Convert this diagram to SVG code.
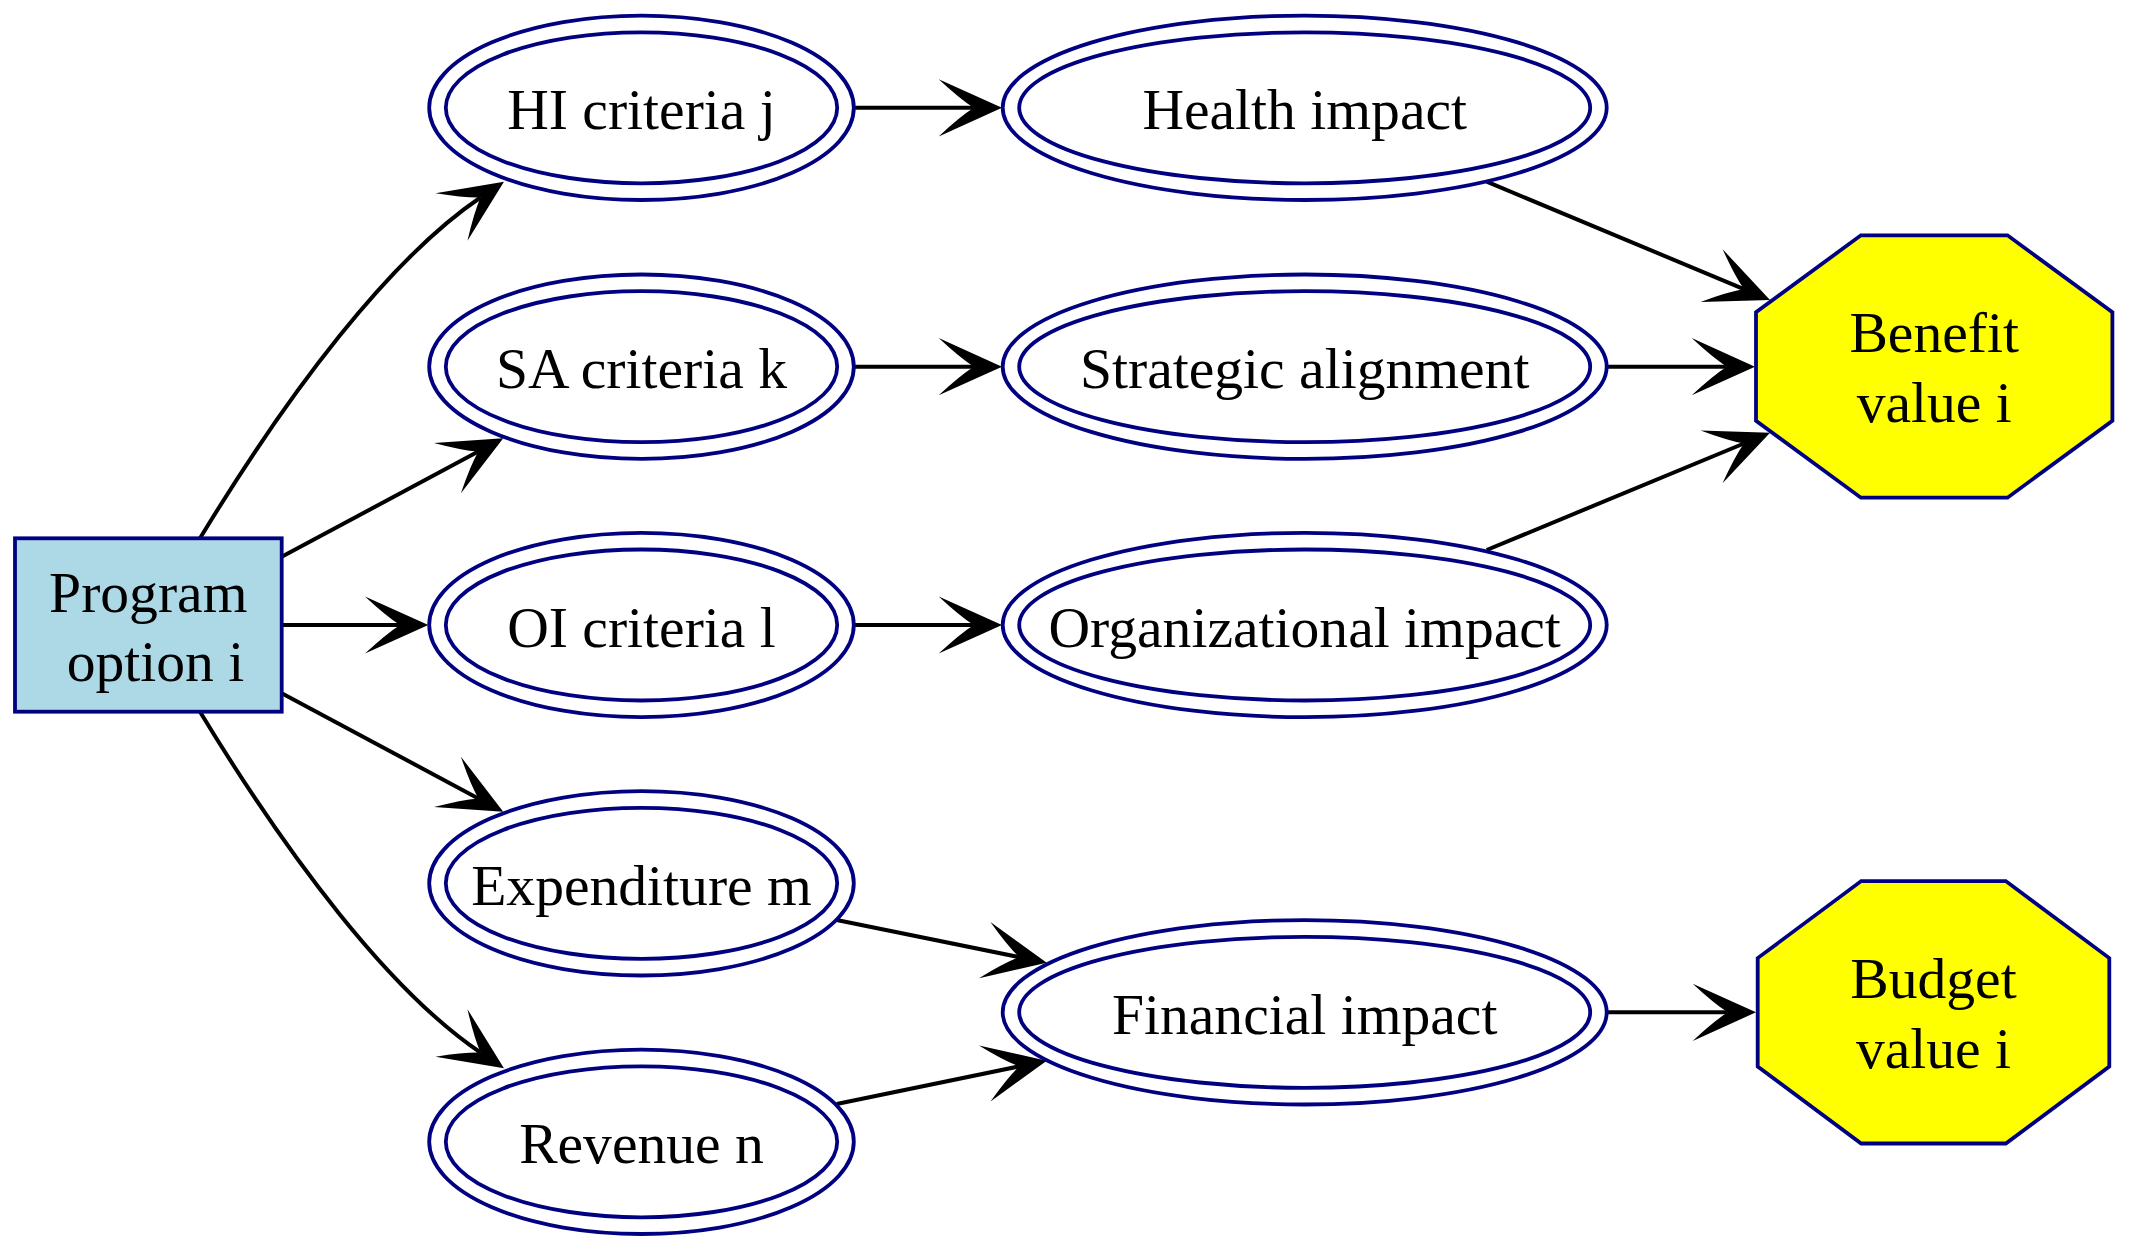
<svg xmlns="http://www.w3.org/2000/svg" width="2129" height="1250" viewBox="0 0 2129 1250">
<defs>
<marker id="vee" markerUnits="userSpaceOnUse" viewBox="-40 -32 72 64" refX="0" refY="0" markerWidth="72" markerHeight="64" orient="auto" overflow="visible">
<path d="M28.3,0 L-35,-28.6 Q-14,-9 0,0 Q-14,9 -35,28.6 Z" fill="#000000"/>
</marker>
</defs>
<style>
.ell{fill:none;stroke:#000080;stroke-width:3.8}
.box{fill:#add8e6;stroke:#000080;stroke-width:3.8}
.oct{fill:#ffff00;stroke:#000080;stroke-width:3.8}
.lbl{font-family:"Liberation Serif","Times New Roman",serif;font-size:57.6px;fill:#000000;text-anchor:middle}
.edge{fill:none;stroke:#000000;stroke-width:4;marker-end:url(#vee)}
</style>
<rect x="0" y="0" width="2129" height="1250" fill="#ffffff"/>
<g id="edges">
<path class="edge" d="M200,538.3 C288.4,392.6 389.3,259 480.5,197.5"/>
<path class="edge" d="M281.7,556.7 L478.3,451.6"/>
<path class="edge" d="M281.7,625 L400,625"/>
<path class="edge" d="M281.7,693.3 L478.3,798.4"/>
<path class="edge" d="M200,711.7 C288.4,857.4 389.3,991 480.5,1052.5"/>
<path class="edge" d="M855,107.8 L973.7,107.8"/>
<path class="edge" d="M855,366.7 L973.7,366.7"/>
<path class="edge" d="M855,625 L973.7,625"/>
<path class="edge" d="M836.7,920 L1019,957.1"/>
<path class="edge" d="M836.7,1104 L1019,1066.4"/>
<path class="edge" d="M1486.7,181.7 L1743.9,289.1"/>
<path class="edge" d="M1607,366.7 L1726.7,366.7"/>
<path class="edge" d="M1486.7,550 L1743.9,443.5"/>
<path class="edge" d="M1607,1012.3 L1727.7,1012.3"/>
</g>
<g id="program">
<rect class="box" x="15" y="538.3" width="266.7" height="173.4"/>
<text class="lbl" x="148.3" y="611.7">Program</text>
<text class="lbl" x="155.5" y="680.5">option i</text>
</g>
<g id="hi">
<ellipse class="ell" cx="641.5" cy="107.8" rx="212.3" ry="92.2"/>
<ellipse class="ell" cx="641.5" cy="107.8" rx="195.7" ry="75.5"/>
<text class="lbl" x="641.5" y="129.3">HI criteria j</text>
</g>
<g id="sa">
<ellipse class="ell" cx="641.5" cy="366.7" rx="212.3" ry="92.2"/>
<ellipse class="ell" cx="641.5" cy="366.7" rx="195.7" ry="75.5"/>
<text class="lbl" x="641.5" y="388.2">SA criteria k</text>
</g>
<g id="oi">
<ellipse class="ell" cx="641.5" cy="625" rx="212.3" ry="92.2"/>
<ellipse class="ell" cx="641.5" cy="625" rx="195.7" ry="75.5"/>
<text class="lbl" x="641.5" y="646.5">OI criteria l</text>
</g>
<g id="expenditure">
<ellipse class="ell" cx="641.5" cy="883.3" rx="212.3" ry="92.2"/>
<ellipse class="ell" cx="641.5" cy="883.3" rx="195.7" ry="75.5"/>
<text class="lbl" x="641.5" y="904.8">Expenditure m</text>
</g>
<g id="revenue">
<ellipse class="ell" cx="641.5" cy="1141.8" rx="212.3" ry="92.2"/>
<ellipse class="ell" cx="641.5" cy="1141.8" rx="195.7" ry="75.5"/>
<text class="lbl" x="641.5" y="1163.3">Revenue n</text>
</g>
<g id="health">
<ellipse class="ell" cx="1304.7" cy="107.8" rx="302" ry="92.2"/>
<ellipse class="ell" cx="1304.7" cy="107.8" rx="285.5" ry="75.5"/>
<text class="lbl" x="1304.7" y="129.3">Health impact</text>
</g>
<g id="strategic">
<ellipse class="ell" cx="1304.7" cy="366.7" rx="302" ry="92.2"/>
<ellipse class="ell" cx="1304.7" cy="366.7" rx="285.5" ry="75.5"/>
<text class="lbl" x="1304.7" y="388.2">Strategic alignment</text>
</g>
<g id="organizational">
<ellipse class="ell" cx="1304.7" cy="625" rx="302" ry="92.2"/>
<ellipse class="ell" cx="1304.7" cy="625" rx="285.5" ry="75.5"/>
<text class="lbl" x="1304.7" y="646.5">Organizational impact</text>
</g>
<g id="financial">
<ellipse class="ell" cx="1304.7" cy="1012.3" rx="302" ry="92.2"/>
<ellipse class="ell" cx="1304.7" cy="1012.3" rx="285.5" ry="75.5"/>
<text class="lbl" x="1304.7" y="1033.8">Financial impact</text>
</g>
<g id="benefit">
<polygon class="oct" points="1860.9,235.3 2007.5,235.3 2112.4,312.3 2112.4,420.7 2007.5,497.7 1860.9,497.7 1756,420.7 1756,312.3"/>
<text class="lbl" x="1934.2" y="352">Benefit</text>
<text class="lbl" x="1934.2" y="421.5">value i</text>
</g>
<g id="budget">
<polygon class="oct" points="1861.2,881.1 2005.8,881.1 2109.3,958.1 2109.3,1066.5 2005.8,1143.5 1861.2,1143.5 1757.7,1066.5 1757.7,958.1"/>
<text class="lbl" x="1933.5" y="998">Budget</text>
<text class="lbl" x="1933.5" y="1067.5">value i</text>
</g>
</svg>
